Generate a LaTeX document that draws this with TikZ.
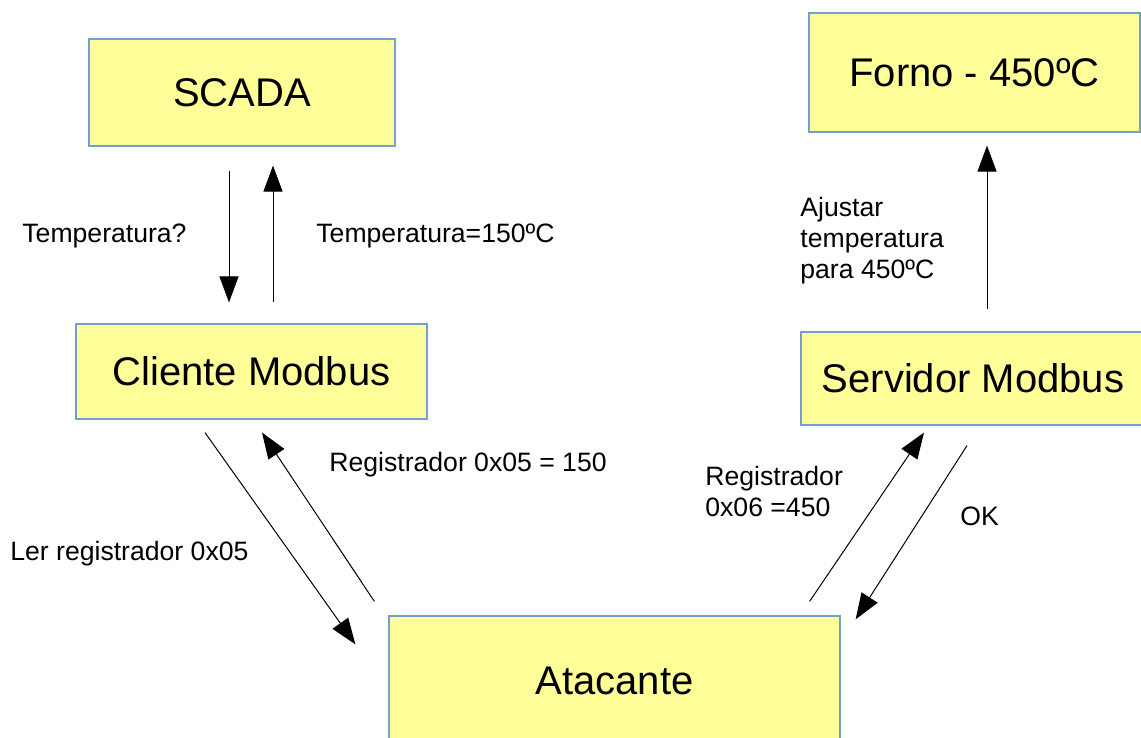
\documentclass[tikz,border=0pt]{standalone}
\usepackage{fontspec}
\setmainfont{Liberation Sans}
\usetikzlibrary{arrows.meta}
\definecolor{boxfill}{HTML}{FFFF99}
\definecolor{boxline}{HTML}{729FCF}
\tikzset{
    block/.style={draw=boxline, fill=boxfill, line width=0.6pt, inner sep=0pt,
        font=\fontsize{20}{24}\selectfont},
    msg/.style={line width=0.5pt, -{Triangle[length=13pt,width=9.5pt]}},
    lbl/.style={inner sep=0pt, anchor=west, align=left,
        font=\fontsize{13.3}{15.5}\selectfont}
}
\begin{document}
\begin{tikzpicture}[x=0.5pt, y=-0.5pt]
    \useasboundingbox (0,0) rectangle (1141,738);
    % Nodes
    \node at (242, 92.5) (scada) [block, minimum width=153pt, minimum height=53.5pt] {SCADA};
    \node at (251.5, 371.5) (cliente) [block, minimum width=175.5pt, minimum height=47.5pt] {Cliente Modbus};
    \node at (974.5, 72.5) (forno) [block, minimum width=165.5pt, minimum height=59.5pt] {Forno - 450ºC};
    \node at (973, 378.5) (servidor) [block, minimum width=172pt, minimum height=46.5pt] {Servidor Modbus};
    \node at (614.5, 681) (atacante) [block, minimum width=225.5pt, minimum height=65pt] {Atacante};

    % Arrows
    \draw[msg] ([shift={(-13,24)}]scada.south) -- ([shift={(-22.5,-21)}]cliente.north);
    \draw[msg] ([shift={(21.5,-21)}]cliente.north) -- ([shift={(31,19)}]scada.south);
    \draw[msg] ([shift={(14,-22)}]servidor.north) -- ([shift={(12.5,13)}]forno.south);
    \draw[msg] ([shift={(-46.5,13)}]cliente.south) -- ([shift={(-33,29)}]atacante.north west);
    \draw[msg] ([shift={(-14,-14)}]atacante.north west) -- ([shift={(10.5,13)}]cliente.south);
    \draw[msg] ([shift={(-31,-14)}]atacante.north east) -- ([shift={(-49,7)}]servidor.south);
    \draw[msg] ([shift={(-6,20)}]servidor.south) -- ([shift={(15,4)}]atacante.north east);

    % Labels
    \node at (22, 236) (lblpergunta) [lbl] {Temperatura?};
    \node at (316, 236) (lblresposta) [lbl] {Temperatura=150ºC};
    \node at (800, 241) (lblajuste) [lbl] {Ajustar\\temperatura\\para 450ºC};
    \node at (329, 465) (lblreg05) [lbl] {Registrador 0x05 = 150};
    \node at (10, 554) (lbller) [lbl] {Ler registrador 0x05};
    \node at (705, 491) (lblreg06) [lbl] {Registrador\\0x06 =450};
    \node at (960, 516) (lblok) [lbl] {OK};
\end{tikzpicture}
\end{document}
